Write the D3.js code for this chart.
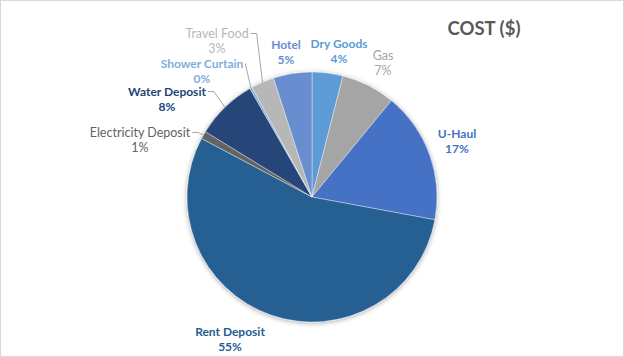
<!DOCTYPE html>
<html><head><meta charset="utf-8">
<script src="https://cdn.jsdelivr.net/npm/d3@7"></script>
<style>body{margin:0;background:#fff;}svg{display:block;font-family:Lato,"Open Sans",sans-serif;}</style>
</head><body>
<svg id="c" width="624" height="357"></svg>
<script>
const categories = ["Dry Goods","Gas","U-Haul","Rent Deposit","Electricity Deposit","Water Deposit","Shower Curtain","Travel Food","Hotel"];
const values = [4, 7, 17, 55, 1, 8, 0.3, 3, 5];
const colors = ["#5B9BD5","#A5A5A5","#4472C4","#255E91","#636363","#264478","#7CAFDD","#B7B7B7","#698ED0"];
// label layout: offset of label centre from pie centre, leader line flag, bold flag
const labelOffsets = [[27,-146,0,1],[71,-134,0,0],[145,-56,0,1],[-82,142,0,1],[-172,-57,1,0],[-145,-98,1,1],[-110,-126,1,1],[-95,-156,1,0],[-26,-145,0,1]];
const title = "COST ($)";

const W=624,H=357, cx=312, cy=197, r=125;
const svg=d3.select("#c");
svg.append("rect").attr("x",0.5).attr("y",0.5).attr("width",W-1).attr("height",H-1).attr("fill","#fff").attr("stroke","#D9D9D9");
const defs=svg.append("defs");
const f=defs.append("filter").attr("id","sh").attr("x","-20%").attr("y","-20%").attr("width","140%").attr("height","140%");
f.append("feDropShadow").attr("dx",0).attr("dy",1).attr("stdDeviation",2.5).attr("flood-color","#000").attr("flood-opacity",0.35);

svg.append("text").attr("x",484).attr("y",35).attr("text-anchor","middle").attr("font-size",18.5).attr("font-weight","bold").attr("fill","#595959").text(title);

const total=d3.sum(values);
const pie=d3.pie().sort(null).value(d=>d)(values);
const arc=d3.arc().innerRadius(0).outerRadius(r);
const g=svg.append("g").attr("transform",`translate(${cx},${cy})`);
g.append("g").attr("filter","url(#sh)").selectAll("path").data(pie).join("path")
 .attr("d",arc).attr("fill",(d,i)=>colors[i]).attr("stroke","#fff").attr("stroke-width",0.4);

const lh=15;
pie.forEach((d,i)=>{
  const a=(d.startAngle+d.endAngle)/2;
  const o=labelOffsets[i];
  const lx=o[0], ly=o[1];
  const pct=Math.round(d.value/total*100)+"%";
  const t=g.append("text").attr("text-anchor","middle").attr("font-size",o[3]?12:12.5).attr("font-weight",o[3]?"bold":"normal").attr("fill",colors[i]);
  t.append("tspan").attr("x",lx).attr("y",ly-lh/2+4).text(categories[i]);
  t.append("tspan").attr("x",lx).attr("y",ly+lh/2+4).text(pct);
  if(o[2]){
    const tw=t.select("tspan").node().getComputedTextLength();
    const ex=lx+tw/2+2, ey=ly-lh/2;
    const px=Math.sin(a)*r, py=-Math.cos(a)*r;
    const pts = px-ex>7 ? [[ex,ey],[ex+6,ey],[px,py]] : [[ex,ey],[px,py]];
    g.append("polyline").attr("points",pts.map(p=>p.join(",")).join(" ")).attr("fill","none").attr("stroke","#A6A6A6").attr("stroke-width",1);
  }
});
</script>
</body></html>
